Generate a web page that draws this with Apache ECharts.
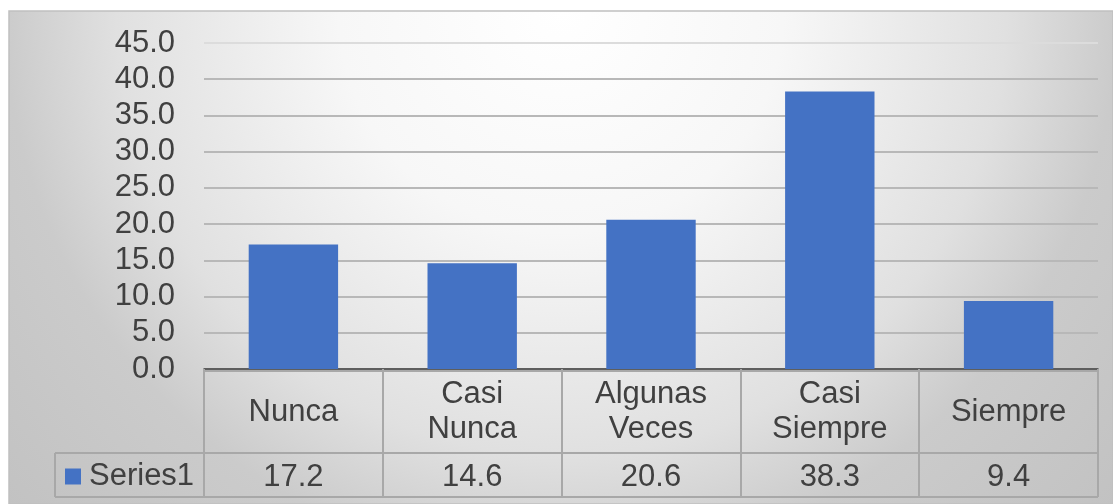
<!DOCTYPE html>
<html>
<head>
<meta charset="utf-8">
<script src="https://cdn.jsdelivr.net/npm/echarts@6/dist/echarts.min.js"></script>
<style>
  html, body { margin: 0; padding: 0; background: #ffffff; }
  #chart { width: 1113px; height: 504px; }
</style>
</head>
<body>
<div id="chart"></div>
<script>
// Categories (header row of the data table) and the single series
const categories = ['Nunca', 'Casi\nNunca', 'Algunas\nVeces', 'Casi\nSiempre', 'Siempre'];
const seriesName = 'Series1';
const series1 = [17.2, 14.6, 20.6, 38.3, 9.4];

// Value axis range
const yMin = 0;
const yMax = 45;
const yInterval = 5;

// Layout
const W = 1113, H = 504;
const GRID = { left: 204, right: 15, top: 43, bottom: 135 };
const plotRight = W - GRID.right;
const axisY = H - GRID.bottom;
const headerBottom = axisY + 84;
const tableBottom = axisY + 128;
const legendCellLeft = 55;

const FONT = '"Liberation Sans", Arial, sans-serif';
const TEXT = '#404040';
const BORDER = '#a8a8a8';

const chart = echarts.init(document.getElementById('chart'), null, { renderer: 'canvas' });

const gridColors = [];
for (let v = yMin; v <= yMax; v += yInterval) {
  gridColors.push(v === yMax ? '#dcdcdc' : '#b8b8b8');
}

const line = (x1, y1, x2, y2) => ({
  type: 'line',
  silent: true,
  z: 5,
  shape: { x1, y1, x2, y2 },
  style: { stroke: BORDER, lineWidth: 2 }
});

chart.setOption({
  animation: false,
  textStyle: { fontFamily: FONT },
  graphic: [
    {
      type: 'rect',
      silent: true,
      z: -100,
      shape: { x: 9, y: 11, width: W - 9, height: H - 11 },
      style: {
        fill: {
          type: 'radial', x: 0.5, y: 0, r: 1.5,
          colorStops: [
            { offset: 0, color: '#ffffff' },
            { offset: 0.3, color: '#f7f7f7' },
            { offset: 0.6, color: '#e0e0e0' },
            { offset: 0.75, color: '#cbcbcb' },
            { offset: 1, color: '#c2c2c2' }
          ]
        },
        stroke: '#c0c0c0',
        lineWidth: 1.5
      }
    },
    line(GRID.left, axisY + 2, plotRight, axisY + 2),
    line(legendCellLeft, headerBottom, plotRight, headerBottom),
    line(legendCellLeft, tableBottom, plotRight, tableBottom),
    line(legendCellLeft, headerBottom, legendCellLeft, tableBottom)
  ],
  legend: {
    data: [seriesName],
    left: 65,
    top: 461,
    padding: 0,
    icon: 'rect',
    itemWidth: 16,
    itemHeight: 16,
    textStyle: { fontSize: 31, color: TEXT, fontFamily: FONT, padding: [0, 0, 0, 3] }
  },
  grid: {
    left: GRID.left,
    right: GRID.right,
    top: GRID.top,
    bottom: GRID.bottom,
    containLabel: false
  },
  xAxis: [
    {
      type: 'category',
      data: categories,
      position: 'bottom',
      boundaryGap: true,
      axisLine: { show: true, lineStyle: { color: '#404040', width: 1.5 } },
      axisTick: {
        show: true,
        length: tableBottom - axisY,
        inside: false,
        lineStyle: { color: BORDER, width: 2 }
      },
      axisLabel: {
        interval: 0,
        margin: 43,
        verticalAlign: 'middle',
        fontSize: 31,
        lineHeight: 35,
        color: TEXT,
        fontFamily: FONT
      },
      splitLine: { show: false }
    },
    {
      type: 'category',
      data: series1.map(v => v.toFixed(1)),
      position: 'bottom',
      offset: 0,
      boundaryGap: true,
      axisLine: { show: false },
      axisTick: { show: false },
      axisLabel: {
        interval: 0,
        margin: 108,
        verticalAlign: 'middle',
        fontSize: 31,
        color: TEXT,
        fontFamily: FONT
      },
      splitLine: { show: false }
    }
  ],
  yAxis: {
    type: 'value',
    min: yMin,
    max: yMax,
    interval: yInterval,
    axisLine: { show: false },
    axisTick: { show: false },
    axisLabel: {
      margin: 29,
      fontSize: 31,
      color: TEXT,
      fontFamily: FONT,
      formatter: v => v.toFixed(1)
    },
    splitLine: { show: true, lineStyle: { color: gridColors, width: 2 } }
  },
  series: [
    {
      name: seriesName,
      type: 'bar',
      xAxisIndex: 0,
      data: series1,
      barCategoryGap: '50%',
      itemStyle: { color: '#4472c4' }
    }
  ]
});
</script>
</body>
</html>
